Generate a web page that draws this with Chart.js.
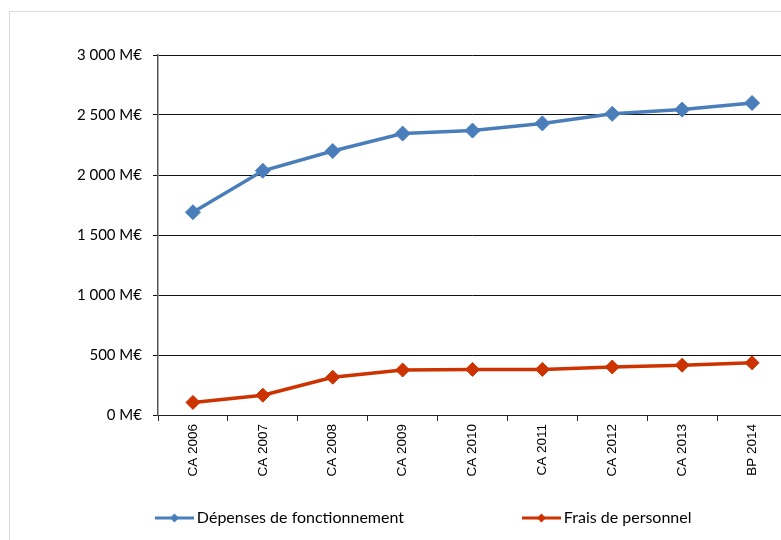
<!DOCTYPE html>
<html>
<head>
<meta charset="utf-8">
<script src="https://cdn.jsdelivr.net/npm/chart.js@4/dist/chart.umd.min.js"></script>
<style>
  html, body { margin: 0; padding: 0; overflow: hidden; background: #fff; }
  #frame { position: absolute; left: 9px; top: 11px; width: 900px; height: 600px; border: 1px solid #dcdcdc; }
  #wrap { position: absolute; left: 0; top: 0; width: 800px; height: 540px; }
</style>
</head>
<body>
<div id="frame"></div>
<div id="wrap"><canvas id="fonctChart" width="800" height="540"></canvas></div>
<script>
const categories = ['CA 2006', 'CA 2007', 'CA 2008', 'CA 2009', 'CA 2010', 'CA 2011', 'CA 2012', 'CA 2013', 'BP 2014'];
const depensesFonctionnement = [1690, 2035, 2200, 2345, 2370, 2430, 2510, 2545, 2600];
const fraisPersonnel = [105, 165, 315, 375, 380, 380, 400, 415, 435];
const yTickValues = [0, 500, 1000, 1500, 2000, 2500, 3000];
const seriesNames = ['Dépenses de fonctionnement', 'Frais de personnel'];

const blue = '#4A7EBB';
const red = '#CC3300';

// legend geometry (matches the picture)
const legendFont = 16;
const legendPad = 8;
const text1X = 197, text2X = 564;
const meas = document.createElement('canvas').getContext('2d');
meas.font = legendFont + 'px Lato';
const text1W = meas.measureText(seriesNames[0]).width;
const markW = Math.max(20, text2X - text1X - text1W - legendPad - legendFont / 2);
const itemX = text1X - legendFont / 2 - markW;
const padLeft = Math.round(itemX - legendPad);
const edge = legendFont / 2 - 3;

// little line + diamond used as the legend symbol
function legendMark(color) {
  const c = document.createElement('canvas');
  c.width = Math.round(markW + 2 * edge);
  c.height = 12;
  const g = c.getContext('2d');
  const x1 = c.width - 39, x2 = c.width, cy = 6;
  g.strokeStyle = color;
  g.lineWidth = 3;
  g.beginPath();
  g.moveTo(x1, cy);
  g.lineTo(x2, cy);
  g.stroke();
  const mx = (x1 + x2) / 2;
  g.fillStyle = color;
  g.beginPath();
  g.moveTo(mx - 4.5, cy);
  g.lineTo(mx, cy - 4.5);
  g.lineTo(mx + 4.5, cy);
  g.lineTo(mx, cy + 4.5);
  g.closePath();
  g.fill();
  return c;
}
const marks = [legendMark(blue), legendMark(red)];

function fmt(v) {
  const s = v >= 1000 ? Math.floor(v / 1000) + ' ' + String(v % 1000).padStart(3, '0') : String(v);
  return s + ' M€';
}

const ctx = document.getElementById('fonctChart').getContext('2d');
const fonctChart = new Chart(ctx, {
  type: 'line',
  data: {
    labels: categories,
    datasets: [{
      label: seriesNames[0],
      data: depensesFonctionnement,
      borderColor: blue,
      backgroundColor: blue,
      borderWidth: 3.5,
      pointStyle: 'rectRot',
      pointRadius: 7.5,
      pointBorderWidth: 1,
      tension: 0
    }, {
      label: seriesNames[1],
      data: fraisPersonnel,
      borderColor: red,
      backgroundColor: red,
      borderWidth: 3.5,
      pointStyle: 'rectRot',
      pointRadius: 7,
      pointBorderWidth: 1,
      tension: 0
    }]
  },
  options: {
    responsive: false,
    animation: false,
    layout: { padding: { left: padLeft, top: 55, right: 13, bottom: 4 } },
    plugins: {
      tooltip: { enabled: false },
      legend: {
        position: 'bottom',
        align: 'start',
        labels: {
          usePointStyle: true,
          pointStyleWidth: markW,
          padding: legendPad,
          color: '#000',
          font: { family: 'Lato', size: legendFont },
          generateLabels: (chart) => {
            const items = Chart.defaults.plugins.legend.labels.generateLabels(chart);
            items.forEach((it, i) => { it.pointStyle = marks[i]; });
            return items;
          }
        }
      }
    },
    scales: {
      x: {
        offset: true,
        afterFit: (s) => { s.height = 87; },
        grid: { offset: true, drawOnChartArea: false, tickLength: 6, color: '#222' },
        border: { color: '#222', width: 1 },
        ticks: {
          maxRotation: 90, minRotation: 90, padding: 3,
          color: '#000',
          font: { family: 'Liberation Sans', size: 13.5 }
        }
      },
      y: {
        min: 0,
        max: 3000,
        afterFit: (s) => { s.width = 158 - padLeft; },
        afterBuildTicks: (s) => { s.ticks = yTickValues.map(v => ({ value: v })); },
        grid: { color: '#111', lineWidth: 1, tickLength: 5 },
        border: { color: '#555', width: 1.5 },
        ticks: {
          padding: 11,
          color: '#000',
          font: { family: 'Lato', size: 15 },
          callback: (v) => fmt(v)
        }
      }
    }
  }
});
</script>
</body>
</html>
